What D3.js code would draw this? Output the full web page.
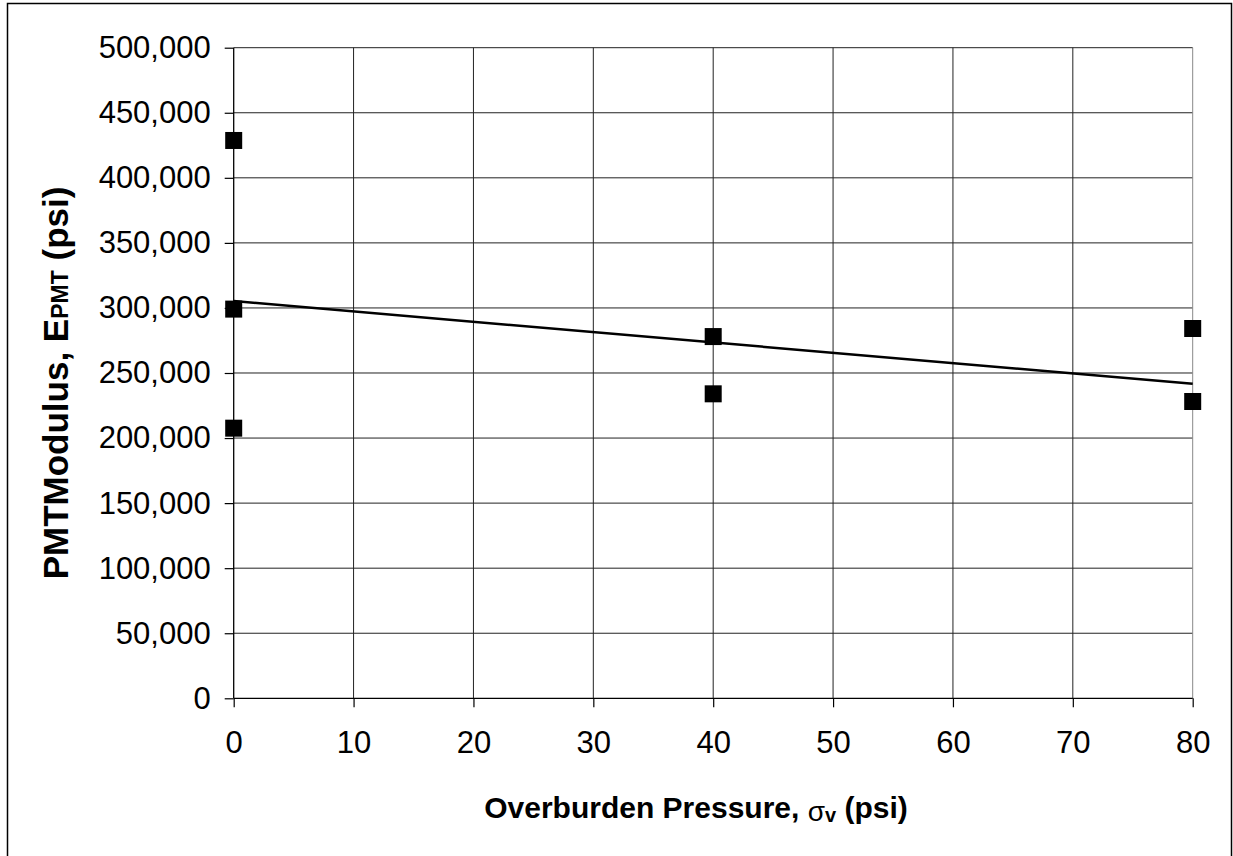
<!DOCTYPE html>
<html>
<head>
<meta charset="utf-8">
<script src="https://cdn.jsdelivr.net/npm/d3@7"></script>
<style>
    body { margin: 0; background: #fff; }
    svg { display: block; font-family: "Liberation Sans", Arial, sans-serif; }
</style>
</head>
<body>
<div id="my-dataviz"></div>
<script>
// measured points, overburden pressure (psi) vs PMT modulus (psi)
const pressure = [0, 0, 0, 40, 40, 80, 80];
const modulus = [428700, 299100, 207600, 278000, 234000, 284200, 228100];

// linear trend line as drawn in the picture
const trendX = [0, 80];
const trendY = [305300, 241700];

const xTicks = [0, 10, 20, 30, 40, 50, 60, 70, 80];
const yTicks = [0, 50000, 100000, 150000, 200000, 250000, 300000, 350000, 400000, 450000, 500000];

document.addEventListener("DOMContentLoaded", () => {
    let W = 1233, H = 856;
    let margin = {top: 47.7, right: 40.3, bottom: 157.7, left: 233.7},
        width = W - margin.left - margin.right,
        height = H - margin.top - margin.bottom;

    let root = d3.select("#my-dataviz")
        .append("svg")
        .attr("width", W)
        .attr("height", H);

    // outer chart border
    root.append("rect")
        .attr("x", 7.5).attr("y", 3.5)
        .attr("width", 1224).attr("height", 870)
        .attr("fill", "none")
        .attr("stroke", "#000")
        .attr("stroke-width", 1.5);

    let svg = root.append("g")
        .attr("transform", "translate(" + margin.left + "," + margin.top + ")");

    let x = d3.scaleLinear().domain([0, 80]).range([0, width]);
    let y = d3.scaleLinear().domain([0, 500000]).range([height, 0]);

    // gridlines
    svg.append("g")
        .selectAll("line")
        .data(yTicks.slice(1))
        .enter()
        .append("line")
        .attr("x1", 0).attr("x2", width)
        .attr("y1", d => y(d)).attr("y2", d => y(d))
        .attr("stroke", "#222").attr("stroke-width", 1);
    svg.append("g")
        .selectAll("line")
        .data(xTicks.slice(1))
        .enter()
        .append("line")
        .attr("y1", 0).attr("y2", height)
        .attr("x1", d => x(d)).attr("x2", d => x(d))
        .attr("stroke", d => d === 80 ? "#888" : "#222").attr("stroke-width", 1);

    // axes
    let fmt = d3.format(",");
    let yAxis = svg.append("g")
        .call(d3.axisLeft(y).tickValues(yTicks).tickSize(9).tickPadding(14).tickFormat(fmt));
    let xAxis = svg.append("g")
        .attr("transform", "translate(0," + height + ")")
        .call(d3.axisBottom(x).tickValues(xTicks).tickSize(9).tickPadding(24));
    [xAxis, yAxis].forEach(a => {
        a.select(".domain").attr("stroke", "#000").attr("stroke-width", 1.3);
        a.selectAll(".tick line").attr("stroke", "#000").attr("stroke-width", 1.2);
        a.selectAll("text")
            .attr("fill", "#000")
            .style("font-size", "31px")
            .style("font-family", "'Liberation Sans', Arial, sans-serif");
    });
    yAxis.select(".domain").attr("d", "M0," + height + "V0");
    xAxis.select(".domain").attr("d", "M0,0H" + width);

    // trend line
    svg.append("path")
        .datum(trendX.map((d, i) => [d, trendY[i]]))
        .attr("fill", "none")
        .attr("stroke", "#000")
        .attr("stroke-width", 2.5)
        .attr("d", d3.line()
            .x(d => x(d[0]))
            .y(d => y(d[1])));

    // points
    let s = 17;
    svg.append("g")
        .selectAll("rect")
        .data(pressure.map((d, i) => [d, modulus[i]]))
        .enter()
        .append("rect")
        .attr("x", d => x(d[0]) - s / 2)
        .attr("y", d => y(d[1]) - s / 2)
        .attr("width", s).attr("height", s)
        .attr("fill", "#000");

    // x title
    let xt = root.append("text")
        .attr("x", 696)
        .attr("y", 818)
        .attr("text-anchor", "middle")
        .style("font-size", "30px")
        .style("font-weight", "bold");
    xt.append("tspan").text("Overburden Pressure, ");
    xt.append("tspan").attr("font-weight", "normal").attr("font-size", "28px").attr("dy", 3).text("σ");
    xt.append("tspan").attr("font-size", "20px").attr("dy", 1).text("v");
    xt.append("tspan").attr("dy", -4).text(" (psi)");

    // y title
    let yt = root.append("text")
        .attr("transform", "translate(68," + 383 + ") rotate(-90)")
        .attr("text-anchor", "middle")
        .style("font-size", "35px")
        .style("font-weight", "bold");
    yt.append("tspan").text("PMTModulus, E");
    yt.append("tspan").attr("font-size", "23px").text("PMT");
    yt.append("tspan").text(" (psi)");
});
</script>
</body>
</html>
